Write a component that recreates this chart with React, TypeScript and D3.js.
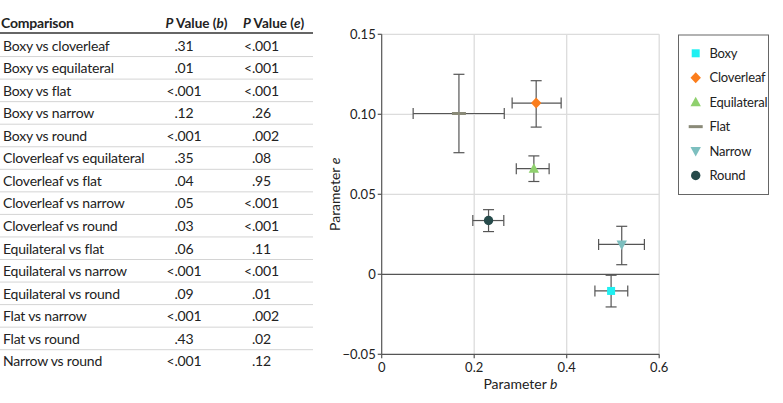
import React from "react";
import * as d3 from "d3";

const comparisons = [
  "Boxy vs cloverleaf",
  "Boxy vs equilateral",
  "Boxy vs flat",
  "Boxy vs narrow",
  "Boxy vs round",
  "Cloverleaf vs equilateral",
  "Cloverleaf vs flat",
  "Cloverleaf vs narrow",
  "Cloverleaf vs round",
  "Equilateral vs flat",
  "Equilateral vs narrow",
  "Equilateral vs round",
  "Flat vs narrow",
  "Flat vs round",
  "Narrow vs round",
];
const pValuesB = [".31", ".01", "<.001", ".12", "<.001", ".35", ".04", ".05", ".03", ".06", "<.001", ".09", "<.001", ".43", "<.001"];
const pValuesE = ["<.001", "<.001", "<.001", ".26", ".002", ".08", ".95", "<.001", "<.001", ".11", "<.001", ".01", ".002", ".02", ".12"];

const shapes = ["Boxy", "Cloverleaf", "Equilateral", "Flat", "Narrow", "Round"];
const bValues = [0.496, 0.334, 0.329, 0.167, 0.519, 0.231];
const bLow = [0.461, 0.282, 0.291, 0.068, 0.469, 0.197];
const bHigh = [0.532, 0.388, 0.362, 0.265, 0.568, 0.264];
const eValues = [-0.0104, 0.107, 0.066, 0.1005, 0.0187, 0.0336];
const eLow = [-0.0204, 0.092, 0.058, 0.076, 0.006, 0.0267];
const eHigh = [-0.0006, 0.121, 0.074, 0.125, 0.03, 0.0404];
const colors = ["#1ff0f2", "#fb7d1c", "#8fd06e", "#8a8a78", "#7dbfbf", "#274b4b"];

const xTicks = [0, 0.2, 0.4, 0.6];
const yTicks = [-0.05, 0, 0.05, 0.1, 0.15];
const xTickLabels = ["0", "0.2", "0.4", "0.6"];
const yTickLabels = ["\u22120.05", "0", "0.05", "0.10", "0.15"];

const FONT = "Lato, 'Open Sans', sans-serif";

function markerPath(kind: string, s: number): string {
  switch (kind) {
    case "Boxy":
      return `M${-s * 0.4},${-s * 0.4}H${s * 0.4}V${s * 0.4}H${-s * 0.4}Z`;
    case "Cloverleaf":
      return `M0,${-s * 0.55}L${s * 0.52},0L0,${s * 0.55}L${-s * 0.52},0Z`;
    case "Equilateral":
      return `M0,${-s * 0.55}L${s * 0.52},${s * 0.4}L${-s * 0.52},${s * 0.4}Z`;
    case "Narrow":
      return `M0,${s * 0.55}L${s * 0.52},${-s * 0.4}L${-s * 0.52},${-s * 0.4}Z`;
    case "Flat":
      return `M${-s * 0.7},-1.5H${s * 0.7}V1.5H${-s * 0.7}Z`;
    default:
      return "";
  }
}

function Marker({ kind, color, x, y, s }: { kind: string; color: string; x: number; y: number; s: number }) {
  if (kind === "Round") return <circle cx={x} cy={y} r={s * 0.47} fill={color} />;
  return <path d={markerPath(kind, s)} transform={`translate(${x},${y})`} fill={color} />;
}

function PVal({ v, x, y }: { v: string; x: number; y: number }) {
  const hasLt = v.startsWith("<");
  const rest = hasLt ? v.slice(1) : v;
  return (
    <g>
      {hasLt && (
        <text x={x} y={y} textAnchor="end">
          {"<"}
        </text>
      )}
      <text x={x} y={y}>
        {rest}
      </text>
    </g>
  );
}

export default function App() {
  const x = d3.scaleLinear().domain([0, 0.6]).range([381.7, 659.2]);
  const y = d3.scaleLinear().domain([-0.05, 0.15]).range([354.3, 34.3]);

  const tableRight = 313;
  const headerLineY = 33;
  const rowH = 22.55;
  const rowTop0 = 34;
  const dotB = 174.5;
  const dotE = 252;
  const cap = 5.5;

  return (
    <div style={{ position: "absolute", left: 0, top: 0 }}>
      <svg width={783} height={403} style={{ display: "block", fontFamily: FONT }}>
        <rect width={783} height={403} fill="#fff" />
        {/* Table */}
        <g fontSize={14} fill="#222" letterSpacing={-0.2}>
          <text x={1} y={27.5} fontWeight={700}>
            Comparison
          </text>
          <text x={165.5} y={27.5} fontWeight={700} fontSize={13.5} letterSpacing={0}>
            <tspan fontStyle="italic">P</tspan> Value (<tspan fontStyle="italic">b</tspan>)
          </text>
          <text x={243} y={27.5} fontWeight={700} fontSize={13.5} letterSpacing={0}>
            <tspan fontStyle="italic">P</tspan> Value (<tspan fontStyle="italic">e</tspan>)
          </text>
          <line x1={0} x2={tableRight} y1={headerLineY} y2={headerLineY} stroke="#333" strokeWidth={1.5} />
          {comparisons.map((c, i) => {
            const cy = rowTop0 + i * rowH + rowH / 2;
            const by = cy + 5.3;
            return (
              <g key={c}>
                {i > 0 && (
                  <line
                    x1={0}
                    x2={tableRight}
                    y1={rowTop0 + i * rowH}
                    y2={rowTop0 + i * rowH}
                    stroke="#d4d4d4"
                    strokeWidth={1}
                  />
                )}
                <text x={3} y={by}>
                  {c}
                </text>
                <PVal v={pValuesB[i]} x={dotB} y={by} />
                <PVal v={pValuesE[i]} x={dotE} y={by} />
              </g>
            );
          })}
        </g>

        {/* Chart grid */}
        <g>
          {xTicks.slice(1).map((t) => (
            <line key={"gx" + t} x1={x(t)} x2={x(t)} y1={y(0.15)} y2={y(-0.05)} stroke="#dcdcdc" strokeWidth={1.3} />
          ))}
          {yTicks
            .filter((t) => t > 0)
            .map((t) => (
              <line key={"gy" + t} x1={x(0)} x2={x(0.6)} y1={y(t)} y2={y(t)} stroke="#dcdcdc" strokeWidth={1.3} />
            ))}
          <line x1={x(0)} x2={x(0.6)} y1={y(0)} y2={y(0)} stroke="#555" strokeWidth={1.2} />
          <line x1={x(0)} x2={x(0.6)} y1={y(-0.05)} y2={y(-0.05)} stroke="#555" strokeWidth={1.2} />
          <line x1={x(0)} x2={x(0)} y1={y(0.15)} y2={y(-0.05)} stroke="#555" strokeWidth={1.2} />
        </g>

        {/* Axes ticks and labels */}
        <g fontSize={13} fill="#222">
          {yTicks.map((t, i) => (
            <g key={"yt" + t}>
              <line x1={x(0) - 4} x2={x(0)} y1={y(t)} y2={y(t)} stroke="#555" strokeWidth={1.2} />
              <text x={x(0) - 6} y={y(t) + 4.5} textAnchor="end">
                {yTickLabels[i]}
              </text>
            </g>
          ))}
          {xTicks.map((t, i) => (
            <g key={"xt" + t}>
              <line x1={x(t)} x2={x(t)} y1={y(-0.05)} y2={y(-0.05) + 4} stroke="#555" strokeWidth={1.2} />
              <text x={x(t)} y={y(-0.05) + 18} textAnchor="middle">
                {xTickLabels[i]}
              </text>
            </g>
          ))}
          <text x={(x(0) + x(0.6)) / 2} y={389} textAnchor="middle" fontSize={14}>
            Parameter <tspan fontStyle="italic">b</tspan>
          </text>
          <text
            transform={`translate(340,${(y(0.15) + y(-0.05)) / 2}) rotate(-90)`}
            textAnchor="middle"
            fontSize={14}
          >
            Parameter <tspan fontStyle="italic">e</tspan>
          </text>
        </g>

        {/* Error bars */}
        <g stroke="#555" strokeWidth={1.2} fill="none">
          {shapes.map((s, i) => {
            const cx = x(bValues[i]);
            const cy = y(eValues[i]);
            const x0 = x(bLow[i]);
            const x1 = x(bHigh[i]);
            const y0 = y(eLow[i]);
            const y1 = y(eHigh[i]);
            return (
              <g key={"eb" + s}>
                <line x1={x0} x2={x1} y1={cy} y2={cy} />
                <line x1={x0} x2={x0} y1={cy - cap} y2={cy + cap} />
                <line x1={x1} x2={x1} y1={cy - cap} y2={cy + cap} />
                <line x1={cx} x2={cx} y1={y0} y2={y1} />
                <line x1={cx - cap} x2={cx + cap} y1={y0} y2={y0} />
                <line x1={cx - cap} x2={cx + cap} y1={y1} y2={y1} />
              </g>
            );
          })}
        </g>
        {/* Markers */}
        <g>
          {shapes.map((s, i) => (
            <Marker key={"m" + s} kind={s} color={colors[i]} x={x(bValues[i])} y={y(eValues[i])} s={10} />
          ))}
        </g>

        {/* Legend */}
        <g>
          <rect x={678.5} y={35} width={90} height={159.5} fill="#fff" stroke="#666" strokeWidth={1} />
          {shapes.map((s, i) => {
            const ly = 53.3 + i * 24.45;
            return (
              <g key={"lg" + s}>
                <Marker kind={s} color={colors[i]} x={695.7} y={ly} s={10} />
                <text x={709.5} y={ly + 4.7} fontSize={13} letterSpacing={-0.2} fill="#222">
                  {s}
                </text>
              </g>
            );
          })}
        </g>
      </svg>
    </div>
  );
}
